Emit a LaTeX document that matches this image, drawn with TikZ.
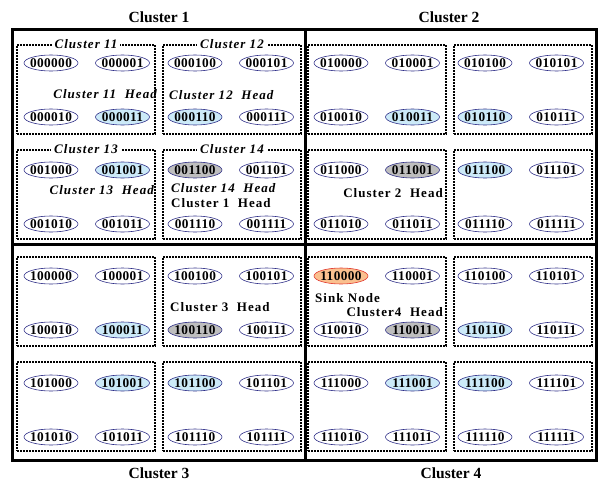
\documentclass[tikz,border=0pt]{standalone}
\usepackage{fontspec}
\setmainfont{Liberation Serif}
\newfontfamily\numfont[LetterSpace=3]{Liberation Serif}
\newfontfamily\labfont[LetterSpace=8]{Liberation Serif}
\usetikzlibrary{shapes.geometric}
\definecolor{nodeborder}{RGB}{45,45,135}
\definecolor{lblue}{RGB}{204,234,248}
\definecolor{hgray}{RGB}{190,190,190}
\definecolor{sinkfill}{RGB}{250,192,143}
\definecolor{sinkborder}{RGB}{225,55,45}
\tikzset{
  cnode/.style={ellipse, draw=nodeborder, line width=0.6pt, fill=white,
    minimum width=54pt, minimum height=16pt, inner sep=0pt,
    font=\numfont\bfseries\fontsize{13.3}{13}\selectfont},
  dotbox/.style={draw, line width=2pt, dash pattern=on 1.7pt off 1.3pt,
    minimum width=138pt, minimum height=89pt, inner sep=0pt},
  frame/.style={draw, line width=3pt},
  title/.style={font=\bfseries\fontsize{15.5}{16}\selectfont, inner sep=0pt},
  sublab/.style={font=\labfont\bfseries\itshape\fontsize{13}{13}\selectfont, fill=white, inner sep=3pt},
  headi/.style={font=\labfont\bfseries\itshape\fontsize{13}{13}\selectfont, inner sep=0pt},
  headu/.style={font=\labfont\bfseries\fontsize{13}{13}\selectfont, inner sep=0pt},
  f000011/.style={fill=lblue}, f000110/.style={fill=lblue}, f001001/.style={fill=lblue},
  f010011/.style={fill=lblue}, f010110/.style={fill=lblue}, f011100/.style={fill=lblue},
  f100011/.style={fill=lblue}, f101001/.style={fill=lblue}, f101100/.style={fill=lblue},
  f110110/.style={fill=lblue}, f111001/.style={fill=lblue}, f111100/.style={fill=lblue},
  f001100/.style={fill=hgray}, f011001/.style={fill=hgray}, f100110/.style={fill=hgray},
  f110011/.style={fill=hgray},
  f110000/.style={fill=sinkfill, draw=sinkborder},
}
\begin{document}
\begin{tikzpicture}[x=1pt, y=-1pt]
\useasboundingbox (0,0) rectangle (599,482);
% titles
\node[title] (t1) at (159,17) {Cluster 1};
\node[title] (t2) at (449,17) {Cluster 2};
\node[title] (t3) at (159,473) {Cluster 3};
\node[title] (t4) at (451,473) {Cluster 4};
% outer frame
\draw[frame] (12,29) rectangle (596,460);
\draw[frame] (305,29) -- (305,460);
\draw[frame] (12,244) -- (596,244);
% sub-cluster boxes and nodes
\foreach \cb/\cx/\cy in {00/0/0, 01/1/0, 10/0/1, 11/1/1} {
  \foreach \sb/\sx/\sy in {00/0/0, 01/1/0, 10/0/1, 11/1/1} {
    \node[dotbox] (b\cb\sb) at ({86+\sx*146+\cx*291},{89.5+\sy*105+\cy*212}) {};
    \foreach \nb/\nx/\ny in {00/0/0, 01/1/0, 10/0/1, 11/1/1} {
      \node[cnode, f\cb\sb\nb/.try] (n\cb\sb\nb)
        at ({51+\sx*144+\nx*71.5+\cx*290},{63+\sy*107+\ny*54+\cy*213})
        {\makebox[0pt]{\cb\sb\nb}};
    }
  }
}
% sub-cluster labels
\node[sublab] (l11) at (b0000.north) {Cluster 11};
\node[sublab] (l12) at (b0001.north) {Cluster 12};
\node[sublab] (l13) at (b0010.north) {Cluster 13};
\node[sublab] (l14) at (b0011.north) {Cluster 14};
% head labels
\node[headi, anchor=east] (h11) at (157,94) {Cluster 11\ \ Head};
\node[headi, anchor=west] (h12) at (169,95) {Cluster 12\ \ Head};
\node[headi, anchor=east] (h13) at (154,190) {Cluster 13\ \ Head};
\node[headi, anchor=west] (h14) at (171,188) {Cluster 14\ \ Head};
\node[headu, anchor=west] (h1) at (171,203) {Cluster 1\ \ Head};
\node[headu, anchor=east] (h2) at (443,193) {Cluster 2\ \ Head};
\node[headu, anchor=west] (h3) at (170,307) {Cluster 3\ \ Head};
\node[headu, anchor=west] (sink) at (315,298) {Sink Node};
\node[headu, anchor=east] (h4) at (443,312) {Cluster4\ \ Head};
\end{tikzpicture}
\end{document}
